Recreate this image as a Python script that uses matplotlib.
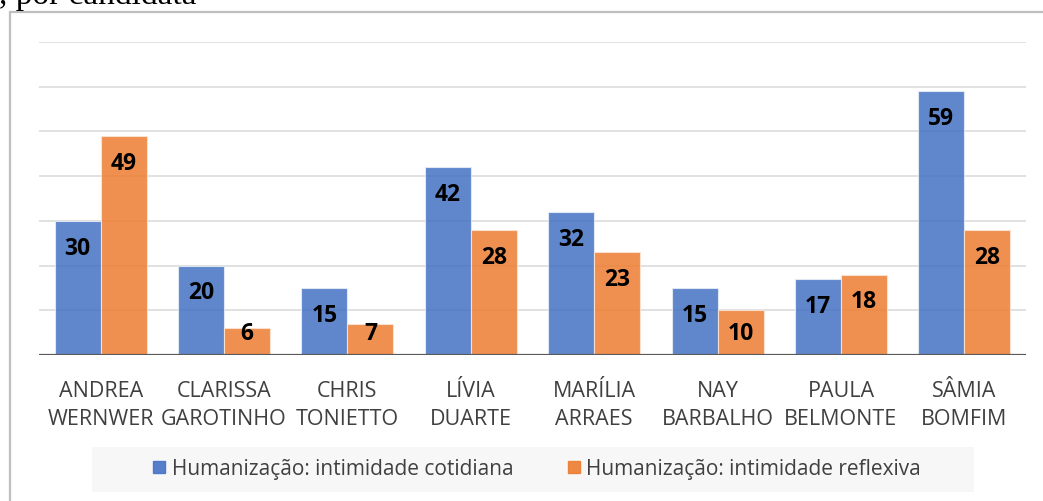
import numpy as np
import matplotlib
matplotlib.use("Agg")
import matplotlib.pyplot as plt
from matplotlib.patches import Rectangle
from matplotlib.lines import Line2D

# ---------------------------------
# dados
# ---------------------------------
candidatas = ["ANDREA\nWERNWER", "CLARISSA\nGAROTINHO", "CHRIS\nTONIETTO", "LÍVIA\nDUARTE",
              "MARÍLIA\nARRAES", "NAY\nBARBALHO", "PAULA\nBELMONTE", "SÂMIA\nBOMFIM"]
cotidiana = [30, 20, 15, 42, 32, 15, 17, 59]
reflexiva = [49, 6, 7, 28, 23, 10, 18, 28]
serie_nomes = ["Humanização: intimidade cotidiana", "Humanização: intimidade reflexiva"]
cores = ["#4472C4", "#ED7D31"]

fonte = "Open Sans"
cinza_txt = "#404040"

W, H = 1043, 502
fig = plt.figure(figsize=(W / 100, H / 100), dpi=100)

# titulo cortado no topo
fig.text(-0.001, 1 - 4 / H, ", por candidata", family="Liberation Serif", fontsize=24,
         va="baseline", ha="left", color="black")

# borda do gráfico
fig.add_artist(Rectangle((10 / W, -0.1), 1.2, (H - 13) / H + 0.1, transform=fig.transFigure,
                         fill=False, edgecolor="#BFBFBF", lw=1.6))

ax = fig.add_axes([39 / W, (H - 356) / H, (1026 - 39) / W, (356 - 43) / H])
x = np.arange(len(candidatas))
w = 0.373

ax.set_ylim(0, 70)
ax.set_xlim(-0.5, len(candidatas) - 0.5)
for yv in range(10, 71, 10):
    ax.axhline(yv, color="#D9D9D9", lw=1.1, zorder=1)

b1 = ax.bar(x - w / 2, cotidiana, w, color=cores[0], alpha=0.85, edgecolor="#E8EEF8", lw=0.8, zorder=2)
b2 = ax.bar(x + w / 2, reflexiva, w, color=cores[1], alpha=0.85, edgecolor="#FBE5D6", lw=0.8, zorder=2)

for barras, vals in [(b1, cotidiana), (b2, reflexiva)]:
    for b, v in zip(barras, vals):
        ax.text(b.get_x() + b.get_width() / 2, max(v - 6, 4.9), str(v), ha="center", va="center",
                family=fonte, fontweight="bold", fontsize=16.5, color="black", zorder=3)

ax.axhline(0, color="#595959", lw=2.3, zorder=4)

ax.set_xticks(x)
ax.set_xticklabels(candidatas, family=fonte, fontsize=15.5, color=cinza_txt, linespacing=1.45)
ax.tick_params(axis="x", length=0, pad=18)
ax.set_yticks([])
for s in ax.spines.values():
    s.set_visible(False)

# legenda
fig.patches.append(Rectangle((92 / W, (H - 493) / H), (974 - 92) / W, 45 / H,
                             transform=fig.transFigure, facecolor="#F7F7F7", edgecolor="none", zorder=0))
handles = [Line2D([], [], marker="s", linestyle="none", markersize=9, color=c, alpha=0.9) for c in cores]
leg = fig.legend(handles, serie_nomes, loc="center", bbox_to_anchor=(537 / W, (H - 470) / H),
                 ncol=2, frameon=False, handlelength=0.6, handletextpad=0.3, columnspacing=2.6,
                 prop={"family": fonte, "size": 15})
for t in leg.get_texts():
    t.set_color(cinza_txt)

fig.savefig("out.png", dpi=100)
